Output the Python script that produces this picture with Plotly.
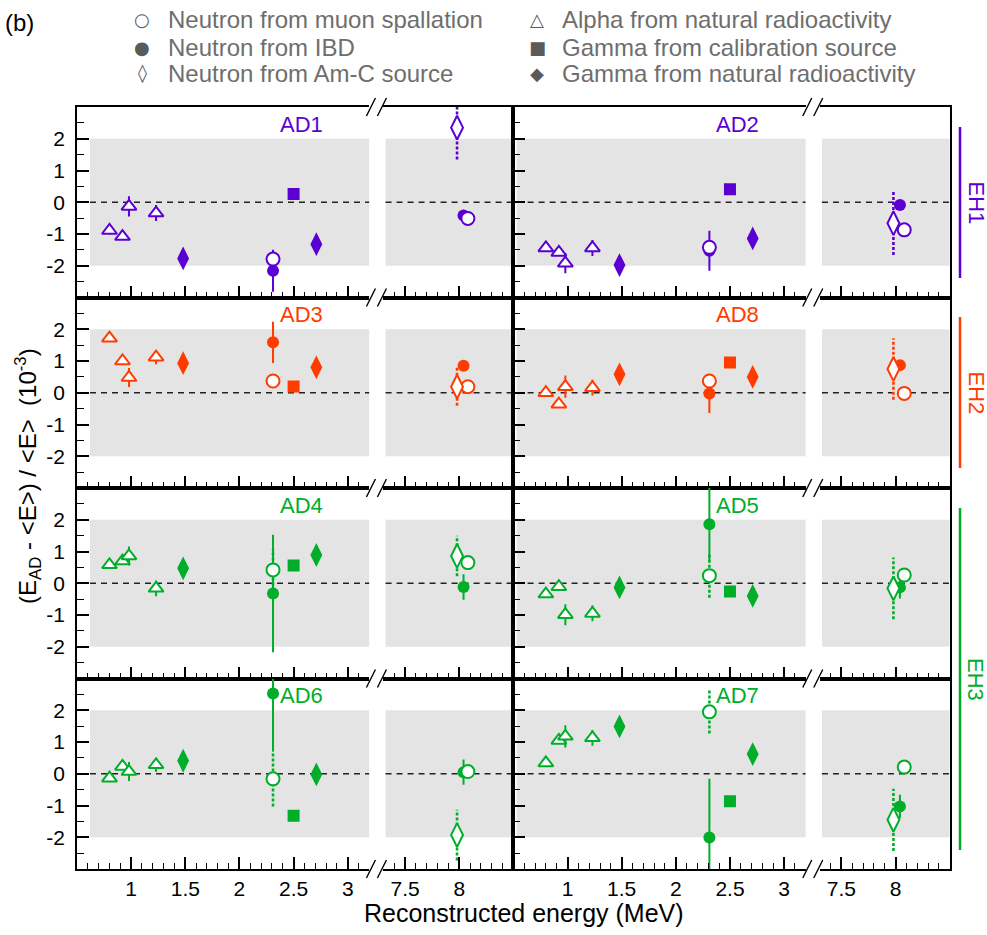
import plotly.graph_objects as go

W, H = 987, 935
FONT = "Liberation Sans, Arial, Helvetica, sans-serif"

# ---------------- data ----------------
AD_NAMES = ["AD1", "AD2", "AD3", "AD8", "AD4", "AD5", "AD6", "AD7"]
PURPLE, RED, GREEN = "#5a00d2", "#ff3c00", "#00ae2a"
PANEL_COLORS = [PURPLE, PURPLE, RED, RED, GREEN, GREEN, GREEN, GREEN]
HALL_NAMES = ["EH1", "EH2", "EH3"]
HALL_COLORS = [PURPLE, RED, GREEN]

X_TICKS_LOW = [1, 1.5, 2, 2.5, 3]
X_TICKS_HIGH = [7.5, 8]
Y_TICKS = [-2, -1, 0, 1, 2]
Y_TICK_TEXT = ["-2", "-1", "0", "1", "2"]
X_RANGE_LOW = [0.5, 3.2]
X_RANGE_HIGH = [7.3, 8.5]
Y_RANGE = [-3, 3]
BAND = [-2, 2]

ALPHA_E = [0.80, 0.92, 0.98, 1.23]
ALPHA_VALUES = [
    [-0.89, -1.08, -0.13, -0.34],
    [-1.44, -1.58, -1.92, -1.44],
    [1.72, 1.00, 0.48, 1.12],
    [0.00, -0.36, 0.19, 0.16],
    [0.58, 0.70, 0.86, -0.16],
    [-0.34, -0.11, -0.99, -0.95],
    [-0.14, 0.23, 0.07, 0.28],
    [0.34, 1.05, 1.18, 1.13],
]
ALPHA_ERR = [
    [0.12, 0.08, 0.32, 0.25],
    [0.12, 0.10, 0.32, 0.25],
    [0.10, 0.10, 0.30, 0.22],
    [0.10, 0.10, 0.35, 0.25],
    [0.10, 0.10, 0.30, 0.25],
    [0.10, 0.10, 0.33, 0.25],
    [0.10, 0.10, 0.30, 0.22],
    [0.10, 0.10, 0.35, 0.25],
]

GAMMA_NAT_E = [1.48, 2.71]
GAMMA_NAT_VALUES = [
    [-1.77, -1.32], [-1.98, -1.14], [0.93, 0.80], [0.58, 0.50],
    [0.47, 0.89], [-0.13, -0.40], [0.41, -0.02], [1.49, 0.62],
]

GAMMA_CAL_E = 2.50
GAMMA_CAL_VALUES = [0.26, 0.41, 0.20, 0.95, 0.56, -0.26, -1.32, -0.87]

SPALL_E = [2.31, 8.08]
SPALL_VALUES = [
    [-1.79, -0.51], [-1.42, -0.87], [0.37, 0.19], [0.37, -0.02],
    [0.42, 0.65], [0.24, 0.26], [-0.16, 0.07], [1.95, 0.21],
]
SPALL_ERR = [
    [0.15, 0.08], [0.15, 0.08], [0.10, 0.08], [0.10, 0.08],
    [0.65, 0.08], [0.70, 0.08], [0.87, 0.08], [0.68, 0.08],
]

IBD_E = [2.31, 8.04]
IBD_VALUES = [
    [-2.16, -0.42], [-1.53, -0.09], [1.59, 0.85], [-0.02, 0.87],
    [-0.32, -0.12], [1.86, -0.13], [2.53, 0.05], [-2.01, -1.03],
]
IBD_ERR = [
    [0.66, 0.10], [0.63, 0.10], [0.65, 0.10], [0.62, 0.10],
    [1.85, 0.40], [1.15, 0.35], [1.83, 0.40], [1.85, 0.37],
]

AMC_E = 7.98
AMC_VALUES = [2.35, -0.66, 0.19, 0.75, 0.86, -0.16, -1.93, -1.45]
AMC_ERR = [1.00, 1.00, 0.60, 0.97, 0.64, 0.97, 0.80, 0.98]

AD_LABEL_POS = (2.57, 2.45)

LEGEND_LABELS = [
    "Neutron from muon spallation", "Neutron from IBD", "Neutron from Am-C source",
    "Alpha from natural radioactivity", "Gamma from calibration source",
    "Gamma from natural radioactivity",
]
LEGEND_GLYPHS = ["○", "●", "◊", "△", "■", "◆"]

# ---------------- geometry (pixels) ----------------
PX_PER_MEV = 108.3
GAP = 14
COL_W = (X_RANGE_LOW[1] - X_RANGE_LOW[0]) * PX_PER_MEV + GAP + \
    (X_RANGE_HIGH[1] - X_RANGE_HIGH[0]) * PX_PER_MEV
COL_LEFT = [77, 77 + COL_W]
ROW_TOP = [107, 297.5, 488, 678.5]
ROW_H = 190.5
BAND_START = [0.62, 0.53]


def px(p):
    return p / W


def py(p):
    return 1 - p / H


def seg_px(col, seg):
    x0 = COL_LEFT[col]
    wl = (X_RANGE_LOW[1] - X_RANGE_LOW[0]) * PX_PER_MEV
    if seg == 0:
        return x0, x0 + wl
    wr = (X_RANGE_HIGH[1] - X_RANGE_HIGH[0]) * PX_PER_MEV
    return x0 + wl + GAP, x0 + wl + GAP + wr


def ax_ids(k, seg):
    n = 2 * k + seg + 1
    s = "" if n == 1 else str(n)
    return "x" + s, "y" + s, s


fig = go.Figure()


def add_err(k, xs, ys, es, color, dash):
    for seg in (0, 1):
        ex, ey = [], []
        for x, y, e in zip(xs, ys, es):
            if (x > 5) == (seg == 1):
                ex += [x, x, None]
                ey += [y - e, y + e, None]
        if ex:
            xa, ya, _ = ax_ids(k, seg)
            fig.add_trace(go.Scatter(
                x=ex, y=ey, mode="lines", xaxis=xa, yaxis=ya,
                line=dict(color=color, width=2 if dash == "solid" else 2.6, dash=dash),
                showlegend=False, hoverinfo="skip"))


def add_mk(k, xs, ys, symbol, color, size, hollow=False):
    for seg in (0, 1):
        mx, my = [], []
        for x, y in zip(xs, ys):
            if (x > 5) == (seg == 1):
                mx.append(x)
                my.append(y)
        if mx:
            xa, ya, _ = ax_ids(k, seg)
            if hollow:
                mk = dict(symbol=symbol, size=size, color="white",
                          line=dict(color=color, width=2))
            else:
                mk = dict(symbol=symbol, size=size, color=color, line=dict(width=0))
            fig.add_trace(go.Scatter(
                x=mx, y=my, mode="markers", xaxis=xa, yaxis=ya, marker=mk,
                showlegend=False, cliponaxis=True))


for k in range(8):
    c = PANEL_COLORS[k]
    add_err(k, ALPHA_E, ALPHA_VALUES[k], ALPHA_ERR[k], c, "solid")
    add_err(k, IBD_E, IBD_VALUES[k], IBD_ERR[k], c, "solid")
    add_err(k, SPALL_E, SPALL_VALUES[k], SPALL_ERR[k], c, "3px,2px")
    add_err(k, [AMC_E], [AMC_VALUES[k]], [AMC_ERR[k]], c, "3px,2px")
    add_mk(k, ALPHA_E, ALPHA_VALUES[k], "triangle-up", c, 13, hollow=True)
    add_mk(k, GAMMA_NAT_E, GAMMA_NAT_VALUES[k], "diamond-tall", c, 17)
    add_mk(k, [GAMMA_CAL_E], [GAMMA_CAL_VALUES[k]], "square", c, 12)
    add_mk(k, IBD_E, IBD_VALUES[k], "circle", c, 12)
    add_mk(k, SPALL_E, SPALL_VALUES[k], "circle", c, 13, hollow=True)
    add_mk(k, [AMC_E], [AMC_VALUES[k]], "diamond-tall", c, 17, hollow=True)

layout = dict(
    width=W, height=H, margin=dict(l=0, r=0, t=0, b=0),
    paper_bgcolor="white", plot_bgcolor="rgba(0,0,0,0)",
    showlegend=False, font=dict(family=FONT, size=20, color="black"),
)
shapes = []
annotations = []


def note(x, y, text, size, color="black", family=FONT, xanchor="center",
         angle=0, xref="paper", yref="paper"):
    annotations.append(dict(xref=xref, yref=yref, x=x, y=y, text=text,
                            showarrow=False, xanchor=xanchor, yanchor="middle",
                            textangle=angle,
                            font=dict(size=size, color=color, family=family)))


for k in range(8):
    row, col = k // 2, k % 2
    y_top = ROW_TOP[row]
    y_dom = [py(y_top + ROW_H), py(y_top)]
    for seg in (0, 1):
        xa, ya, s = ax_ids(k, seg)
        p0, p1 = seg_px(col, seg)
        rng = X_RANGE_LOW if seg == 0 else X_RANGE_HIGH
        tv = X_TICKS_LOW if seg == 0 else X_TICKS_HIGH
        layout["xaxis" + s] = dict(
            domain=[px(p0), px(p1)], range=rng, anchor=ya,
            showline=True, linecolor="black", linewidth=1.7, mirror=True,
            ticks="inside", tickvals=tv, ticktext=[str(v) for v in tv],
            ticklen=12, tickwidth=1.5, tickcolor="black",
            minor=dict(tickmode="linear", tick0=0, dtick=0.1, ticks="inside",
                       ticklen=6, tickwidth=1.2, tickcolor="black", showgrid=False),
            showgrid=False, zeroline=False, showticklabels=(row == 3),
            tickfont=dict(size=21, family=FONT), fixedrange=True,
        )
        if seg == 0:
            layout["yaxis" + s] = dict(
                domain=y_dom, range=Y_RANGE, anchor=xa,
                showline=True, linecolor="black", linewidth=1.7, mirror=False,
                ticks="inside", tickvals=Y_TICKS, ticktext=Y_TICK_TEXT,
                ticklen=12, tickwidth=1.5, tickcolor="black",
                minor=dict(tickmode="linear", tick0=0, dtick=0.5, ticks="inside",
                           ticklen=7, tickwidth=1.2, tickcolor="black", showgrid=False),
                showgrid=False, zeroline=False, showticklabels=(col == 0),
                ticklabelstandoff=6, tickfont=dict(size=21, family=FONT),
                fixedrange=True,
            )
        else:
            layout["yaxis" + s] = dict(
                domain=y_dom, range=Y_RANGE, anchor=xa, side="right",
                showline=True, linecolor="black", linewidth=1.7, mirror=False,
                ticks="", showticklabels=False, showgrid=False, zeroline=False,
                fixedrange=True,
            )
        bx0 = BAND_START[col] if seg == 0 else rng[0] + 0.02
        shapes.append(dict(type="rect", xref=xa, yref=ya, x0=bx0, x1=rng[1],
                           y0=BAND[0], y1=BAND[1], fillcolor="#e4e4e4",
                           line=dict(width=0), layer="below"))
        shapes.append(dict(type="line", xref=xa, yref=ya, x0=bx0, x1=rng[1],
                           y0=0, y1=0, line=dict(color="#222", width=1.4, dash="6px,5px"),
                           layer="below"))
    xa0, ya0, _ = ax_ids(k, 0)
    note(AD_LABEL_POS[0], AD_LABEL_POS[1], AD_NAMES[k], 22, PANEL_COLORS[k],
         xref=xa0, yref=ya0)

# axis break marks "//"
for col in (0, 1):
    _, l_end = seg_px(col, 0)
    r_start, _ = seg_px(col, 1)
    cx = (l_end + r_start) / 2
    for yb in ROW_TOP + [ROW_TOP[-1] + ROW_H]:
        for off in (-5.5, 5.5):
            shapes.append(dict(type="line", xref="paper", yref="paper",
                               x0=px(cx + off - 4.5), y0=py(yb + 9),
                               x1=px(cx + off + 4.5), y1=py(yb - 9),
                               line=dict(color="black", width=1.4)))

# experimental hall bars
EH_SPANS = [(127, 278), (317, 468), (508, 850)]
for name, colr, (a, b) in zip(HALL_NAMES, HALL_COLORS, EH_SPANS):
    shapes.append(dict(type="line", xref="paper", yref="paper",
                       x0=px(960), x1=px(960), y0=py(a), y1=py(b),
                       line=dict(color=colr, width=2.5)))
    note(px(976), py((a + b) / 2), name, 22, colr, angle=90)

# legend (text annotations)
LEG_SYM_X = [142, 537]
LEG_TXT_X = [166, 560]
LEG_ROW_Y = [20, 47, 73]
for i, (lab, gl) in enumerate(zip(LEGEND_LABELS, LEGEND_GLYPHS)):
    c, r = i // 3, i % 3
    note(px(LEG_SYM_X[c]), py(LEG_ROW_Y[r]), gl, 18, "#5a5a5a", family="DejaVu Sans")
    note(px(LEG_TXT_X[c]), py(LEG_ROW_Y[r]), lab, 24, "#6e6e6e", xanchor="left")

note(px(19), py(22), "(b)", 24)
note(px(524), py(913), "Reconstructed energy (MeV)", 25)
note(px(28), py(476),
     "(E<sub>AD</sub> - &lt;E&gt;) / &lt;E&gt;  (10<sup>-3</sup>)", 24, angle=-90)

layout["shapes"] = shapes
layout["annotations"] = annotations
fig.update_layout(**layout)
fig.write_html("out.html")
